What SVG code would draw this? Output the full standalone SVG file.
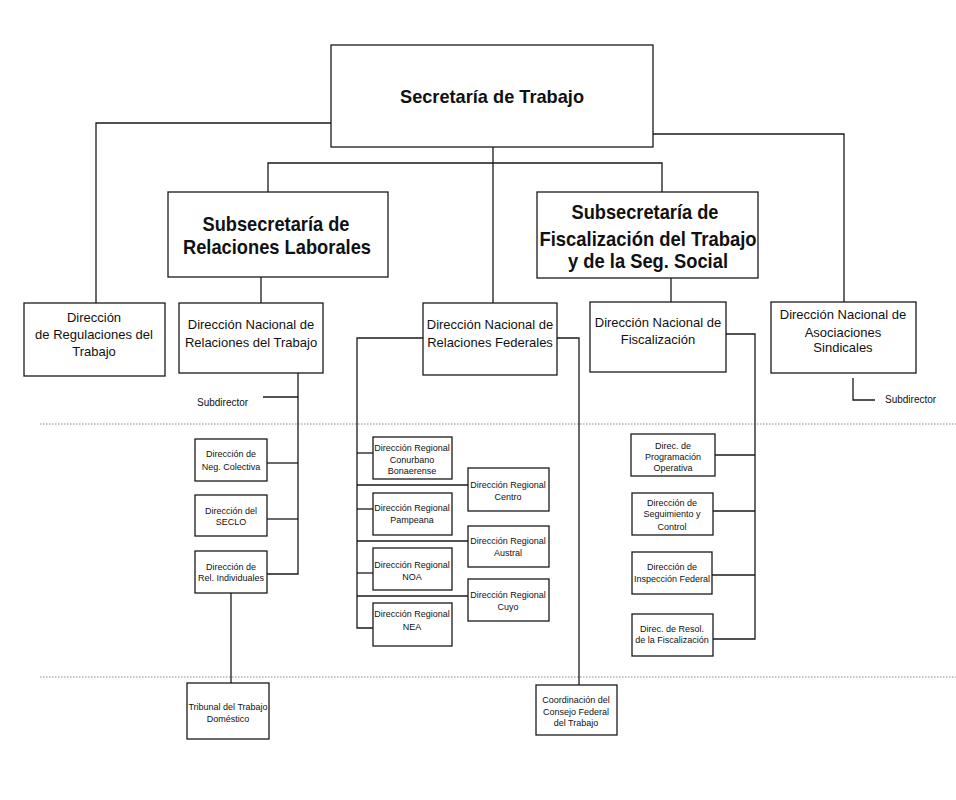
<svg xmlns="http://www.w3.org/2000/svg" width="956" height="800" viewBox="0 0 956 800">
<style>
.box{fill:#fff;stroke:#1a1a1a;stroke-width:1.3}
.ln{fill:none;stroke:#1a1a1a;stroke-width:1.3}
.dot{fill:none;stroke:#888;stroke-width:1;stroke-dasharray:1.5 1.5}
.h{font-family:"Liberation Sans Narrow","Liberation Sans",Arial,sans-serif;font-weight:bold;fill:#111;text-anchor:middle}
.t{font-family:"Liberation Sans",Arial,sans-serif;font-size:13px;fill:#111;text-anchor:middle}
.s{font-family:"Liberation Sans",Arial,sans-serif;font-size:9px;fill:#111;text-anchor:middle}
.sd{font-family:"Liberation Sans",Arial,sans-serif;font-size:10px;fill:#111}
</style>
<rect width="956" height="800" fill="#fff"/>
<g id="guides">
<line class="dot" x1="40" y1="424" x2="956" y2="424"/>
<line class="dot" x1="40" y1="677" x2="956" y2="677"/>
</g>
<g id="connectors">
<polyline class="ln" points="331,123 96,123 96,303"/>
<polyline class="ln" points="653,134 844,134 844,302"/>
<line class="ln" x1="493" y1="147" x2="493" y2="303"/>
<polyline class="ln" points="268,192 268,163 662,163 662,192"/>
<line class="ln" x1="261" y1="277" x2="261" y2="303"/>
<line class="ln" x1="671" y1="278" x2="671" y2="302"/>
<polyline class="ln" points="298,373 298,574 267,574"/>
<line class="ln" x1="263" y1="397" x2="298" y2="397"/>
<line class="ln" x1="267" y1="463" x2="298" y2="463"/>
<line class="ln" x1="267" y1="519" x2="298" y2="519"/>
<line class="ln" x1="231" y1="593" x2="231" y2="683"/>
<polyline class="ln" points="423,338 357,338 357,628 373,628"/>
<line class="ln" x1="357" y1="453" x2="373" y2="453"/>
<line class="ln" x1="357" y1="485" x2="468" y2="485"/>
<line class="ln" x1="357" y1="509" x2="373" y2="509"/>
<line class="ln" x1="357" y1="541" x2="468" y2="541"/>
<line class="ln" x1="357" y1="573" x2="373" y2="573"/>
<line class="ln" x1="357" y1="596" x2="468" y2="596"/>
<polyline class="ln" points="557,338 579,338 579,685"/>
<polyline class="ln" points="726,334 755,334 755,639 713,639"/>
<line class="ln" x1="715" y1="455" x2="755" y2="455"/>
<line class="ln" x1="713" y1="511" x2="755" y2="511"/>
<line class="ln" x1="712" y1="575" x2="755" y2="575"/>
<polyline class="ln" points="853,378 853,400 875,400"/>
</g>
<g id="secretaria">
<rect class="box" x="331" y="45" width="322" height="102"/>
<text class="h" x="492" y="103" font-size="19" textLength="184" lengthAdjust="spacingAndGlyphs">Secretaría de Trabajo</text>
</g>
<g id="subsec-relaciones">
<rect class="box" x="168" y="192" width="220" height="85"/>
<text class="h" x="276" y="231" font-size="21" textLength="147" lengthAdjust="spacingAndGlyphs">Subsecretaría de</text>
<text class="h" x="277" y="254" font-size="21" textLength="188" lengthAdjust="spacingAndGlyphs">Relaciones Laborales</text>
</g>
<g id="subsec-fiscalizacion">
<rect class="box" x="537" y="192" width="221" height="86"/>
<text class="h" x="645" y="219" font-size="21" textLength="147" lengthAdjust="spacingAndGlyphs">Subsecretaría de</text>
<text class="h" x="648" y="246" font-size="21" textLength="217" lengthAdjust="spacingAndGlyphs">Fiscalización del Trabajo</text>
<text class="h" x="648" y="268" font-size="21" textLength="160" lengthAdjust="spacingAndGlyphs">y de la Seg. Social</text>
</g>
<g id="dir-regulaciones">
<rect class="box" x="24" y="303" width="141" height="73"/>
<text class="t" x="94" y="322">Dirección</text>
<text class="t" x="94" y="339">de Regulaciones del</text>
<text class="t" x="94" y="356">Trabajo</text>
</g>
<g id="dn-relaciones-trabajo">
<rect class="box" x="179" y="303" width="144" height="70"/>
<text class="t" x="251" y="329">Dirección Nacional de</text>
<text class="t" x="251" y="347">Relaciones del Trabajo</text>
</g>
<g id="subdirector-1"><text class="sd" x="197" y="406">Subdirector</text></g>
<g id="dn-relaciones-federales">
<rect class="box" x="423" y="303" width="134" height="72"/>
<text class="t" x="490" y="329">Dirección Nacional de</text>
<text class="t" x="490" y="347">Relaciones Federales</text>
</g>
<g id="dn-fiscalizacion">
<rect class="box" x="590" y="302" width="136" height="70"/>
<text class="t" x="658" y="327">Dirección Nacional de</text>
<text class="t" x="658" y="344">Fiscalización</text>
</g>
<g id="dn-asociaciones">
<rect class="box" x="771" y="302" width="145" height="71"/>
<text class="t" x="843" y="319">Dirección Nacional de</text>
<text class="t" x="843" y="337">Asociaciones</text>
<text class="t" x="843" y="352">Sindicales</text>
</g>
<g id="subdirector-2"><text class="sd" x="885" y="403">Subdirector</text></g>
<g id="neg-colectiva">
<rect class="box" x="195" y="439" width="72" height="42"/>
<text class="s" x="231" y="457">Dirección de</text>
<text class="s" x="231" y="470">Neg. Colectiva</text>
</g>
<g id="seclo">
<rect class="box" x="195" y="495" width="72" height="41"/>
<text class="s" x="231" y="514">Dirección del</text>
<text class="s" x="231" y="525">SECLO</text>
</g>
<g id="rel-individuales">
<rect class="box" x="195" y="551" width="72" height="42"/>
<text class="s" x="231" y="570">Dirección de</text>
<text class="s" x="231" y="581">Rel. Individuales</text>
</g>
<g id="tribunal">
<rect class="box" x="187" y="683" width="82" height="56"/>
<text class="s" x="228" y="710">Tribunal del Trabajo</text>
<text class="s" x="228" y="722">Doméstico</text>
</g>
<g id="conurbano">
<rect class="box" x="373" y="437" width="79" height="42"/>
<text class="s" x="412" y="451">Dirección Regional</text>
<text class="s" x="412" y="463">Conurbano</text>
<text class="s" x="412" y="474">Bonaerense</text>
</g>
<g id="pampeana">
<rect class="box" x="373" y="493" width="79" height="42"/>
<text class="s" x="412" y="511">Dirección Regional</text>
<text class="s" x="412" y="523">Pampeana</text>
</g>
<g id="noa">
<rect class="box" x="373" y="548" width="79" height="42"/>
<text class="s" x="412" y="568">Dirección Regional</text>
<text class="s" x="412" y="580">NOA</text>
</g>
<g id="nea">
<rect class="box" x="373" y="603" width="79" height="43"/>
<text class="s" x="412" y="617">Dirección Regional</text>
<text class="s" x="412" y="630">NEA</text>
</g>
<g id="centro">
<rect class="box" x="468" y="468" width="81" height="43"/>
<text class="s" x="508" y="488">Dirección Regional</text>
<text class="s" x="508" y="500">Centro</text>
</g>
<g id="austral">
<rect class="box" x="468" y="526" width="81" height="41"/>
<text class="s" x="508" y="544">Dirección Regional</text>
<text class="s" x="508" y="556">Austral</text>
</g>
<g id="cuyo">
<rect class="box" x="468" y="579" width="81" height="42"/>
<text class="s" x="508" y="598">Dirección Regional</text>
<text class="s" x="508" y="610">Cuyo</text>
</g>
<g id="coordinacion">
<rect class="box" x="536" y="685" width="81" height="50"/>
<text class="s" x="576" y="703">Coordinación del</text>
<text class="s" x="576" y="715">Consejo Federal</text>
<text class="s" x="576" y="726">del Trabajo</text>
</g>
<g id="programacion">
<rect class="box" x="631" y="434" width="84" height="42"/>
<text class="s" x="673" y="449">Direc. de</text>
<text class="s" x="673" y="460">Programación</text>
<text class="s" x="673" y="471">Operativa</text>
</g>
<g id="seguimiento">
<rect class="box" x="632" y="493" width="81" height="42"/>
<text class="s" x="672" y="506">Dirección de</text>
<text class="s" x="672" y="517">Seguimiento y</text>
<text class="s" x="672" y="530">Control</text>
</g>
<g id="inspeccion">
<rect class="box" x="632" y="552" width="80" height="42"/>
<text class="s" x="672" y="570">Dirección de</text>
<text class="s" x="672" y="582">Inspección Federal</text>
</g>
<g id="resolucion">
<rect class="box" x="632" y="614" width="81" height="42"/>
<text class="s" x="672" y="632">Direc. de Resol.</text>
<text class="s" x="672" y="643">de la Fiscalización</text>
</g>
</svg>
